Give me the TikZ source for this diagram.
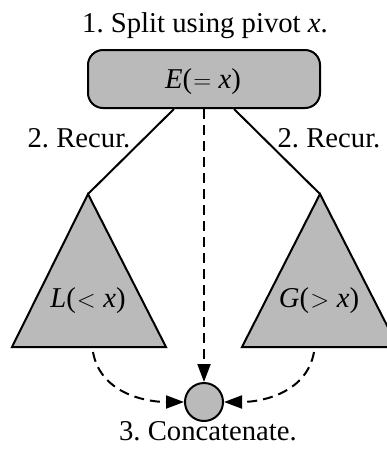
\documentclass[tikz,border=0pt]{standalone}
\usepackage{fontspec}
\setmainfont{Liberation Serif}
\usetikzlibrary{arrows.meta}
\newcommand{\mrel}[1]{\kern0.04em$#1$\kern0.26em}
\begin{document}
\begin{tikzpicture}[x=1pt,y=-1pt,
  every node/.style={font=\fontsize{28.7}{32}\selectfont\frenchspacing},
  lbl/.style={anchor=base,inner sep=0pt},
  shp/.style={draw=black,line width=2pt,fill=black!27},
  solidln/.style={line width=2pt},
  dashln/.style={line width=2pt,dash pattern=on 10pt off 6pt,-{Triangle[length=18pt,width=13pt]}}]
\useasboundingbox (0,0) rectangle (387,456);
\node[lbl] (title) at (205,32) {1. Split using pivot \textit{x}.};
\node[shp,rounded corners=15pt,minimum width=232pt,minimum height=58pt,inner sep=0pt] (E) at (204,79) {};
\node[lbl] (Et) at (203,88) {\textit{E}(\mrel{=}\textit{x})};
\filldraw[shp,line join=miter] (88,194) coordinate (Ltop) -- (12,347) -- (166,347) -- cycle;
\filldraw[shp,line join=miter] (320,194) coordinate (Gtop) -- (242,347) -- (398,347) -- cycle;
\node[lbl] (L) at (88,307) {\textit{L}(\mrel{<}\textit{x})};
\node[lbl] (G) at (319,307) {\textit{G}(\mrel{>}\textit{x})};
\coordinate (Lb) at (93,352);
\coordinate (Gb) at (314,352);
\node[shp,circle,minimum size=38pt,inner sep=0pt] (C) at (204,402) {};
\draw[solidln] (E.south west) ++(87,0) coordinate (e1) -- (Ltop);
\draw[solidln] (E.south east) ++(-87,0) coordinate (e2) -- (Gtop);
\node[lbl] (r1) at (79,147) {2. Recur.};
\node[lbl] (r2) at (329,147) {2. Recur.};
\draw[dashln] (E.south) -- (C.north);
\draw[dashln] (Lb) to[out=-80,in=180] (C.west);
\draw[dashln] (Gb) to[out=-100,in=0] (C.east);
\node[lbl] (concat) at (208,440) {3. Concatenate.};
\end{tikzpicture}
\end{document}
